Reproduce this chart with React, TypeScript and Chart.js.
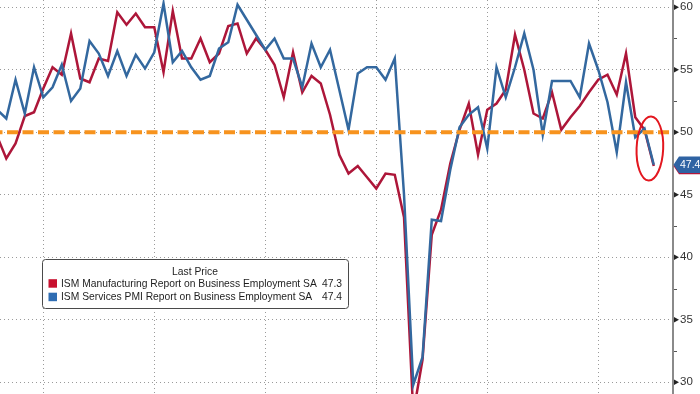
import React, { useEffect, useRef } from "react";
import { Chart, registerables } from "chart.js";

Chart.register(...registerables);

// ---- Data (monthly, Jul 2016 .. Jun 2022) ----
const monthNames = ["Jan", "Feb", "Mar", "Apr", "May", "Jun", "Jul", "Aug", "Sep", "Oct", "Nov", "Dec"];
const startYear = 2016;
const startMonth = 6; // July

const manufacturing = [
  // 2016 Jul-Dec
  49.7, 47.9, 49.1, 51.3, 51.6, 53.5,
  // 2017
  55.2, 54.6, 57.9, 54.3, 54.0, 55.9, 55.7, 59.6, 58.6, 59.5, 58.4, 58.4,
  // 2018
  54.8, 59.7, 55.9, 55.9, 57.5, 55.6, 56.3, 58.5, 58.7, 56.3, 57.5, 56.6,
  // 2019
  55.4, 52.8, 56.4, 53.2, 54.5, 53.9, 51.4, 48.2, 46.7, 47.3, 46.4, 45.5,
  // 2020
  46.7, 46.6, 43.2, 27.5, 31.8, 41.8, 43.8, 47.5, 50.2, 52.3, 48.2, 51.8,
  // 2021
  52.3, 53.4, 57.8, 55.0, 51.5, 51.1, 53.2, 50.2, 51.2, 52.1, 53.2, 54.2,
  // 2022 Jan-Jun
  54.6, 53.0, 56.3, 51.2, 50.2, 47.3,
];

const services = [
  // 2016 Jul-Dec
  51.8, 51.1, 54.2, 51.5, 55.2, 52.8,
  // 2017
  53.6, 55.4, 52.5, 53.5, 57.3, 56.3, 54.5, 56.5, 54.5, 56.2, 55.1, 56.4,
  // 2018
  60.3, 55.6, 56.5, 55.2, 54.2, 54.5, 56.7, 57.2, 60.2, 59.0, 57.8, 56.6,
  // 2019
  57.5, 55.9, 55.9, 53.6, 57.1, 55.2, 56.6, 53.4, 50.2, 54.7, 55.2, 55.2,
  // 2020
  54.2, 55.9, 45.0, 29.8, 32.0, 43.0, 42.9, 47.0, 50.4, 51.4, 52.0, 48.7,
  // 2021
  55.2, 52.8, 55.2, 57.9, 55.0, 49.8, 54.1, 54.1, 54.1, 52.8, 57.1, 55.0,
  // 2022 Jan-Jun
  52.4, 48.4, 54.0, 49.6, 50.3, 47.4,
];

const categories = manufacturing.map((_, i) => {
  const m = (startMonth + i) % 12;
  const yr = startYear + Math.floor((startMonth + i) / 12);
  return `${monthNames[m]} ${yr}`;
});

const seriesNames = [
  "ISM Manufacturing Report on Business Employment SA",
  "ISM Services PMI Report on Business Employment SA",
];
const seriesColors = ["#ad1639", "#33689f"];
const legendSwatch = ["#c8102e", "#2f6db3"];
const legendTitle = "Last Price";
const yTicks = [30, 35, 40, 45, 50, 55, 60];
const threshold = 50;

// view window
const X_MIN = 0.32;
const X_MAX = 73.08;
const Y_MIN = 29.06;
const Y_MAX = 60.58;

const FONT = '"Liberation Sans", Arial, sans-serif';

const decorations = {
  id: "decorations",
  afterDatasetsDraw(chart: any) {
    const { ctx, chartArea, scales } = chart;
    const x = scales.x;
    const y = scales.y;
    // threshold dashed line
    ctx.save();
    ctx.beginPath();
    ctx.rect(chartArea.left, chartArea.top, chartArea.right - chartArea.left, chartArea.bottom - chartArea.top);
    ctx.clip();
    const yy = y.getPixelForValue(threshold);
    ctx.strokeStyle = "#f7931e";
    ctx.lineWidth = 4;
    ctx.setLineDash([11, 4.5]);
    ctx.lineDashOffset = 8.5;
    ctx.beginPath();
    ctx.moveTo(chartArea.left, yy);
    ctx.lineTo(chartArea.right, yy);
    ctx.stroke();
    ctx.restore();

    // red ellipse annotation around the last points
    const last = services.length - 1;
    const cx = x.getPixelForValue(last - 0.42);
    const cy = y.getPixelForValue(48.7);
    ctx.save();
    ctx.strokeStyle = "#e3171f";
    ctx.lineWidth = 2;
    ctx.beginPath();
    ctx.ellipse(cx, cy, 13.3, 32, 0.04, 0, Math.PI * 2);
    ctx.stroke();
    ctx.restore();
  },
  afterDraw(chart: any) {
    const { ctx, chartArea, scales } = chart;
    const y = scales.y;
    const axisX = chartArea.right;

    ctx.save();
    // axis line
    ctx.strokeStyle = "#8a8a8a";
    ctx.lineWidth = 2;
    ctx.beginPath();
    ctx.moveTo(axisX, chartArea.top);
    ctx.lineTo(axisX, chartArea.bottom);
    ctx.stroke();

    // tick marks: major triangles, minor small dashes
    ctx.fillStyle = "#222";
    ctx.strokeStyle = "#555";
    ctx.lineWidth = 1;
    for (let i = 0; i < yTicks.length; i++) {
      const py = y.getPixelForValue(yTicks[i]);
      ctx.beginPath();
      ctx.moveTo(axisX + 1, py - 2.8);
      ctx.lineTo(axisX + 6, py);
      ctx.lineTo(axisX + 1, py + 2.8);
      ctx.closePath();
      ctx.fill();
      if (i < yTicks.length - 1) {
        const pm = y.getPixelForValue((yTicks[i] + yTicks[i + 1]) / 2);
        ctx.beginPath();
        ctx.moveTo(axisX + 1, Math.round(pm) + 0.5);
        ctx.lineTo(axisX + 4, Math.round(pm) + 0.5);
        ctx.stroke();
      }
    }

    // last value labels on the axis (manufacturing behind, services in front)
    const series = [manufacturing, services];
    const labelColors = ["#b3173b", "#2f63a3"];
    for (let s = 0; s < series.length; s++) {
      const v = series[s][series[s].length - 1];
      const py = y.getPixelForValue(v);
      const h = 16.5;
      ctx.fillStyle = labelColors[s];
      ctx.beginPath();
      ctx.moveTo(axisX + 0.5, py);
      ctx.lineTo(axisX + 6, py - h / 2);
      ctx.lineTo(chart.width, py - h / 2);
      ctx.lineTo(chart.width, py + h / 2);
      ctx.lineTo(axisX + 6, py + h / 2);
      ctx.closePath();
      ctx.fill();
      ctx.fillStyle = "#fff";
      ctx.font = `10.5px ${FONT}`;
      ctx.textAlign = "left";
      ctx.textBaseline = "middle";
      ctx.fillText(v.toFixed(1), axisX + 7, py + 0.5);
    }

    // legend box
    const bx = 42, by = 259, bw = 306, bh = 49;
    ctx.fillStyle = "#fff";
    ctx.strokeStyle = "#4a4a4a";
    ctx.lineWidth = 1;
    ctx.beginPath();
    ctx.roundRect(bx + 0.5, by + 0.5, bw, bh, 3);
    ctx.fill();
    ctx.stroke();
    ctx.font = `10.3px ${FONT}`;
    ctx.fillStyle = "#1e1e1e";
    ctx.textBaseline = "middle";
    ctx.textAlign = "center";
    ctx.fillText(legendTitle, bx + bw / 2, by + 13);
    for (let s = 0; s < seriesNames.length; s++) {
      const ry = by + 24.5 + s * 13.5;
      ctx.fillStyle = legendSwatch[s];
      ctx.fillRect(bx + 6.5, ry - 4.3, 8.5, 8.5);
      ctx.fillStyle = "#1e1e1e";
      ctx.textAlign = "left";
      ctx.fillText(seriesNames[s], bx + 19, ry + 0.5);
      ctx.textAlign = "right";
      const arr = series[s];
      ctx.fillText(arr[arr.length - 1].toFixed(1), bx + bw - 6, ry + 0.5);
    }
    ctx.restore();
  },
};

export default function App() {
  const canvasRef = useRef<HTMLCanvasElement | null>(null);

  useEffect(() => {
    document.body.style.margin = "0";
    const canvas = canvasRef.current;
    if (!canvas) return;
    const gridColor = "#9a9a9a";
    const chart = new Chart(canvas, {
      type: "line",
      data: {
        labels: categories,
        datasets: [
          {
            label: seriesNames[0],
            data: manufacturing.map((v, i) => ({ x: i, y: v })),
            borderColor: seriesColors[0],
            backgroundColor: seriesColors[0],
            borderWidth: 2.5,
            pointRadius: 0,
            tension: 0,
            order: 1,
          },
          {
            label: seriesNames[1],
            data: services.map((v, i) => ({ x: i, y: v })),
            borderColor: seriesColors[1],
            backgroundColor: seriesColors[1],
            borderWidth: 2.5,
            pointRadius: 0,
            tension: 0,
            order: 0,
          },
        ],
      },
      options: {
        responsive: false,
        animation: false,
        devicePixelRatio: 1,
        layout: { padding: 0 },
        plugins: {
          legend: { display: false },
          tooltip: { enabled: false },
          title: { display: false },
        },
        scales: {
          x: {
            type: "linear",
            min: X_MIN,
            max: X_MAX,
            afterBuildTicks: (s: any) => {
              s.ticks = categories
                .map((c, i) => ({ c, i }))
                .filter((o) => o.c.startsWith("Dec"))
                .map((o) => ({ value: o.i }));
            },
            afterFit: (s: any) => {
              s.height = 0;
              s.paddingLeft = 0;
              s.paddingRight = 0;
            },
            ticks: { display: false },
            border: { display: false, dash: [1, 3] },
            grid: {
              color: gridColor,
              lineWidth: 1,
              drawTicks: false,
            },
          },
          y: {
            type: "linear",
            position: "right",
            min: Y_MIN,
            max: Y_MAX,
            afterBuildTicks: (s: any) => {
              s.ticks = yTicks.map((v) => ({ value: v }));
            },
            afterFit: (s: any) => {
              s.width = 27;
              s.paddingTop = 0;
              s.paddingBottom = 0;
            },
            ticks: {
              padding: 7,
              color: "#333",
              font: { family: FONT, size: 11.5 },
              callback: (v: any) => String(v),
            },
            border: { display: false, dash: [1, 3] },
            grid: {
              color: gridColor,
              lineWidth: 1,
              drawTicks: false,
            },
          },
        },
      } as any,
      plugins: [decorations],
    });
    return () => chart.destroy();
  }, []);

  return (
    <div style={{ position: "absolute", left: 0, top: 0, width: 700, height: 394, background: "#fff" }}>
      <canvas ref={canvasRef} width={700} height={394} style={{ display: "block", width: 700, height: 394 }} />
    </div>
  );
}
